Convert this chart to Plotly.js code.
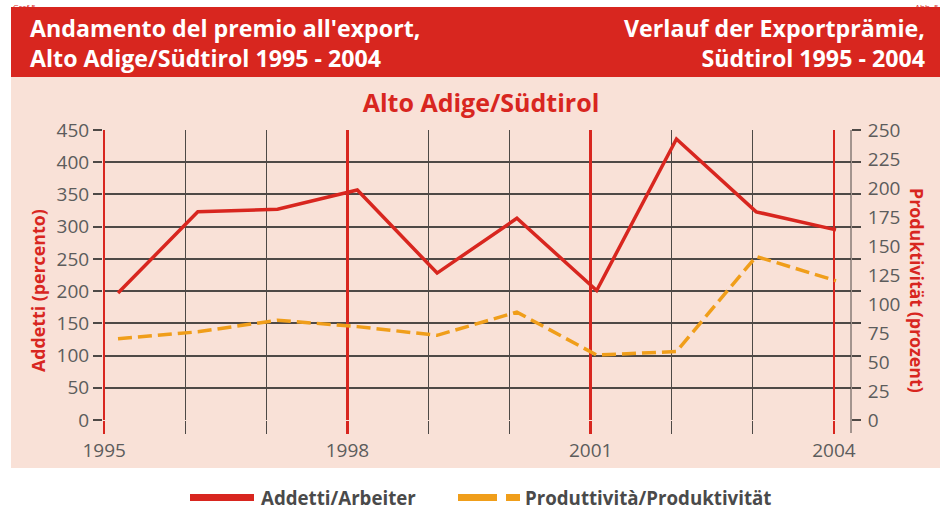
<!DOCTYPE html>
<html>
<head>
<meta charset="utf-8">
<script src="https://cdn.plot.ly/plotly-3.0.1.min.js"></script>
<style>html,body{margin:0;padding:0;background:#fff;}#chart{width:940px;height:510px;}</style>
</head>
<body>
<div id="chart"></div>
<script>
// ---- data ----
const years = [1995, 1996, 1997, 1998, 1999, 2000, 2001, 2002, 2003, 2004];
const addetti = [197, 323, 327, 357, 228, 313, 201, 436, 323, 295];          // left axis, percento
const produttivita = [70, 76, 86, 80.5, 73, 93, 56, 59, 141, 120];           // right axis, prozent
const majorYears = [1995, 1998, 2001, 2004];
const minorYears = years.filter(y => !majorYears.includes(y));
const majorLabels = majorYears.map(String);
const leftTicks = [0, 50, 100, 150, 200, 250, 300, 350, 400, 450];
const rightTicks = [0, 25, 50, 75, 100, 125, 150, 175, 200, 225, 250];
const seriesNames = ['Addetti/Arbeiter', 'Produttività/Produktivität'];

// ---- geometry helpers (pixel -> paper) ----
const L = 103, R = 89, T = 130, B = 90, W = 940, H = 510;
const pw = W - L - R, ph = H - T - B;
const px = x => (x - L) / pw;
const py = y => (H - B - y) / ph;

const RED = '#d8261f', ORANGE = '#f09e1a', PINK = '#f9e1d7', GRID = '#4e4946', TXT = '#5c5c5c';
const FONT = 'Open Sans, Noto Sans, sans-serif';
const XRANGE = [1994.985, 2004.21];

const traces = [
  // empty traces so that the grid axes x and x3 get their subplots
  {x: [], y: [], type: 'scatter', mode: 'lines', xaxis: 'x', yaxis: 'y', showlegend: false, hoverinfo: 'skip'},
  {x: [], y: [], type: 'scatter', mode: 'lines', xaxis: 'x3', yaxis: 'y', showlegend: false, hoverinfo: 'skip'},
  {x: years, y: addetti, type: 'scatter', mode: 'lines', name: seriesNames[0],
   xaxis: 'x2', yaxis: 'y', line: {color: RED, width: 3.5}, showlegend: false},
  {x: years, y: produttivita, type: 'scatter', mode: 'lines', name: seriesNames[1],
   xaxis: 'x2', yaxis: 'y2', line: {color: ORANGE, width: 3.5, dash: '14px,6px'}, showlegend: false}
];

const shapes = [
  // banner + pink panel
  {type: 'rect', xref: 'paper', yref: 'paper', x0: px(11), x1: px(945), y0: py(77), y1: py(7), fillcolor: RED, line: {width: 0}, layer: 'below'},
  {type: 'rect', xref: 'paper', yref: 'paper', x0: px(11), x1: px(945), y0: py(468), y1: py(77), fillcolor: PINK, line: {width: 0}, layer: 'below'},
  // right border
  {type: 'line', xref: 'paper', yref: 'paper', x0: 1, x1: 1, y0: -13 / ph, y1: 1, line: {color: GRID, width: 1}, layer: 'below'},
  // legend swatches
  {type: 'rect', xref: 'paper', yref: 'paper', x0: px(190), x1: px(254), y0: py(501), y1: py(494), fillcolor: RED, line: {width: 0}},
  {type: 'rect', xref: 'paper', yref: 'paper', x0: px(458), x1: px(497), y0: py(501), y1: py(494), fillcolor: ORANGE, line: {width: 0}},
  {type: 'rect', xref: 'paper', yref: 'paper', x0: px(506), x1: px(520), y0: py(501), y1: py(494), fillcolor: ORANGE, line: {width: 0}}
];

const ann = (text, x, y, opts) => Object.assign({text, xref: 'paper', yref: 'paper', x: px(x), y: py(y), showarrow: false}, opts);
const bannerFont = {family: FONT, size: 23.2, color: '#ffffff', weight: 'bold'};
const annotations = [
  ann('Graf 5', 12, 0, {xanchor: 'left', yanchor: 'top', font: {family: FONT, size: 8, color: RED}, borderpad: 0}),
  ann('Abb. 5', 940, 0, {xanchor: 'right', yanchor: 'top', font: {family: FONT, size: 8, color: RED}, borderpad: 0}),
  ann("Andamento del premio all'export,<br>Alto Adige/Südtirol 1995 - 2004", 28, 43, {xanchor: 'left', yanchor: 'middle', align: 'left', font: bannerFont}),
  ann('Verlauf der Exportprämie,<br>Südtirol 1995 - 2004', 927, 43, {xanchor: 'right', yanchor: 'middle', align: 'right', font: bannerFont}),
  ann('Addetti (percento)', 38, 291, {textangle: -90, xanchor: 'center', yanchor: 'middle', font: {family: FONT, size: 17.8, color: RED, weight: 'bold'}}),
  ann('Produktivität (prozent)', 917, 291, {textangle: 90, xanchor: 'center', yanchor: 'middle', font: {family: FONT, size: 17.8, color: RED, weight: 'bold'}}),
  ann(seriesNames[0], 259, 498, {xanchor: 'left', yanchor: 'middle', font: {family: FONT, size: 18.7, color: '#4a4a4a', weight: 'bold'}}),
  ann(seriesNames[1], 523, 498, {xanchor: 'left', yanchor: 'middle', font: {family: FONT, size: 18.7, color: '#4a4a4a', weight: 'bold'}})
];

const layout = {
  width: W, height: H,
  margin: {l: L, r: R, t: T, b: B, pad: 0},
  paper_bgcolor: '#ffffff', plot_bgcolor: 'rgba(0,0,0,0)',
  title: {text: 'Alto Adige/Südtirol', x: px(481), xref: 'paper', xanchor: 'center', y: 1 - 103 / H, yanchor: 'middle',
          font: {family: FONT, size: 25, color: RED, weight: 'bold'}},
  showlegend: false,
  // minor year grid (dark, thin)
  xaxis: {range: XRANGE, tickvals: minorYears, showticklabels: false, showgrid: true, gridcolor: GRID, gridwidth: 1,
          zeroline: false, showline: false, ticks: 'outside', ticklen: 13, tickwidth: 1, tickcolor: GRID, fixedrange: true},
  // data axis
  xaxis2: {range: [1994.812, 2004.188], overlaying: 'x', anchor: 'y', visible: false, fixedrange: true},
  // major year grid (red) + labels
  xaxis3: {range: XRANGE, overlaying: 'x', anchor: 'y', tickvals: majorYears, ticktext: majorLabels, showgrid: true, gridcolor: RED, gridwidth: 2.5,
           zeroline: false, showline: false, ticks: 'outside', ticklen: 13, tickwidth: 2.5, tickcolor: RED,
           tickfont: {family: FONT, size: 19, color: TXT}, fixedrange: true},
  yaxis: {range: [0, 450], tickvals: leftTicks, showgrid: true, gridcolor: GRID, gridwidth: 2, zeroline: false, showline: false,
          ticks: 'outside', ticklen: 9, tickwidth: 2, tickcolor: GRID, mirror: 'ticks',
          tickfont: {family: FONT, size: 19, color: TXT}, fixedrange: true},
  yaxis2: {range: [0, 250], tickvals: rightTicks, overlaying: 'y', anchor: 'x', side: 'right', showgrid: false, zeroline: false, showline: false,
           ticks: 'outside', ticklen: 12, tickcolor: 'rgba(0,0,0,0)',
           tickfont: {family: FONT, size: 19, color: TXT}, fixedrange: true},
  shapes: shapes,
  annotations: annotations
};

Plotly.newPlot('chart', traces, layout, {displayModeBar: false, staticPlot: true});
</script>
</body>
</html>
